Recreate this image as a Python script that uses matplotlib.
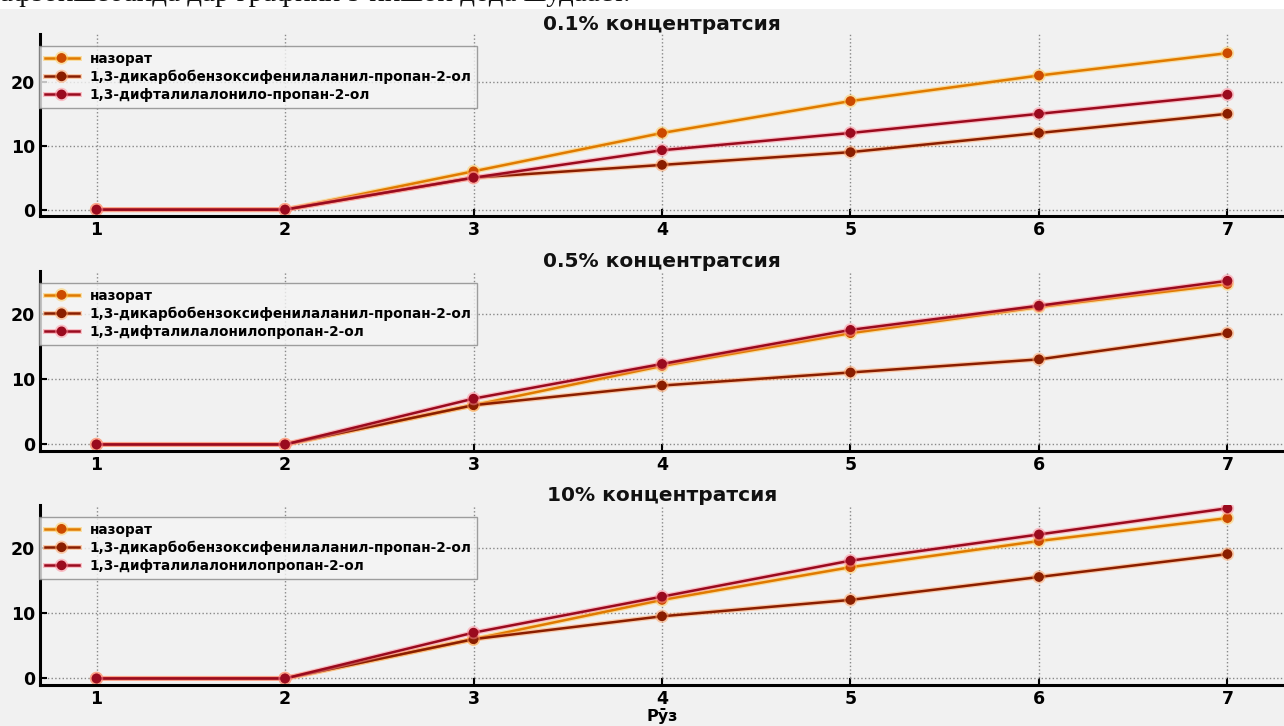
import matplotlib
matplotlib.use("Agg")
import matplotlib.pyplot as plt
import matplotlib.patheffects as pe
from matplotlib.patches import Rectangle

# Рӯзҳо
days = [1, 2, 3, 4, 5, 6, 7]

# 0.1% концентратсия
control_01 = [0, 0, 6, 12, 17, 21, 24.5]
dicarbo_01 = [0, 0, 5, 7, 9, 12, 15]
diphthal_01 = [0, 0, 5, 9.3, 12, 15, 18]

# 0.5% концентратсия
control_05 = [0, 0, 6, 12, 17, 21, 24.5]
dicarbo_05 = [0, 0, 6, 9, 11, 13, 17]
diphthal_05 = [0, 0, 7, 12.3, 17.5, 21.2, 25]

# 10% концентратсия
control_10 = [0, 0, 6, 12, 17, 21, 24.5]
dicarbo_10 = [0, 0, 6, 9.5, 12, 15.5, 19]
diphthal_10 = [0, 0, 7, 12.5, 18, 22, 26]

titles = ["0.1% концентратсия", "0.5% концентратсия", "10% концентратсия"]
labels = [
    ["назорат", "1,3-дикарбобензоксифенилаланил-пропан-2-ол", "1,3-дифталилалонило-пропан-2-ол"],
    ["назорат", "1,3-дикарбобензоксифенилаланил-пропан-2-ол", "1,3-дифталилалонилопропан-2-ол"],
    ["назорат", "1,3-дикарбобензоксифенилаланил-пропан-2-ол", "1,3-дифталилалонилопропан-2-ол"],
]
series = [
    (control_01, dicarbo_01, diphthal_01),
    (control_05, dicarbo_05, diphthal_05),
    (control_10, dicarbo_10, diphthal_10),
]

colors = ["#e07a00", "#8a1e00", "#9a0a1e"]
marker_colors = ["#cc4a00", "#8a1e00", "#9a0a1e"]
glows = ["#ffc850", "#ffa060", "#ff8a98"]

bg = "#f1f1f1"
fig = plt.figure(figsize=(12.84, 7.26), dpi=100, facecolor=bg)

# белая полоса с текстом сверху
fig.patches.append(Rectangle((0, 1 - 9 / 726), 1, 9 / 726, transform=fig.transFigure,
                             facecolor="white", edgecolor="none", zorder=0))
fig.text(0.0, 1 - 1 / 726, "афзоишёбанда дар графики 9 нишон дода шудааст.",
         family="Liberation Serif", fontsize=21, va="baseline", ha="left", color="#111111")

# [left, bottom, width, height]
boxes = [
    [40 / 1284, 1 - 216 / 726, 1 - 40 / 1284, 182 / 726],
    [40 / 1284, 1 - 451 / 726, 1 - 40 / 1284, 180 / 726],
    [40 / 1284, 1 - 685 / 726, 1 - 40 / 1284, 180 / 726],
]

for i in range(3):
    ax = fig.add_axes(boxes[i], facecolor=bg)
    for ys, lab, c, m, g in zip(series[i], labels[i], colors, marker_colors, glows):
        ax.plot(days, ys, marker="o", markersize=6, color=c, markerfacecolor=m,
                markeredgecolor=m, linewidth=1.8, label=lab,
                path_effects=[pe.Stroke(linewidth=3.6, foreground=g, alpha=0.5), pe.Normal()])
    ax.set_xlim(0.7, 7.3)
    ax.set_ylim(-1.0, 27.5 if i == 0 else 26.5)
    ax.set_xticks(days)
    ax.set_yticks([0, 10, 20])
    ax.grid(True, linestyle=":", color="#888888", linewidth=1)
    for s in ["top", "right"]:
        ax.spines[s].set_visible(False)
    for s in ["left", "bottom"]:
        ax.spines[s].set_linewidth(2.2)
        ax.spines[s].set_color("black")
    ax.tick_params(direction="in", length=5, width=1.5, labelsize=12.5)
    for t in ax.get_xticklabels() + ax.get_yticklabels():
        t.set_fontweight("bold")
    ax.set_title(titles[i], fontsize=14.5, fontweight="bold", pad=1, color="#111111")
    leg = ax.legend(loc="upper left", bbox_to_anchor=(-0.004, 0.955),
                    prop={"size": 9.8, "weight": "bold"}, frameon=True,
                    fancybox=False, edgecolor="#888888", facecolor="#f4f4f4",
                    borderaxespad=0.3, handlelength=2.5, labelspacing=0.3,
                    borderpad=0.4)
    leg.get_frame().set_linewidth(1)

ax.set_xlabel("Рӯз", fontsize=11.5, fontweight="bold", labelpad=0)

fig.savefig("out.png", dpi=100, facecolor=bg)
